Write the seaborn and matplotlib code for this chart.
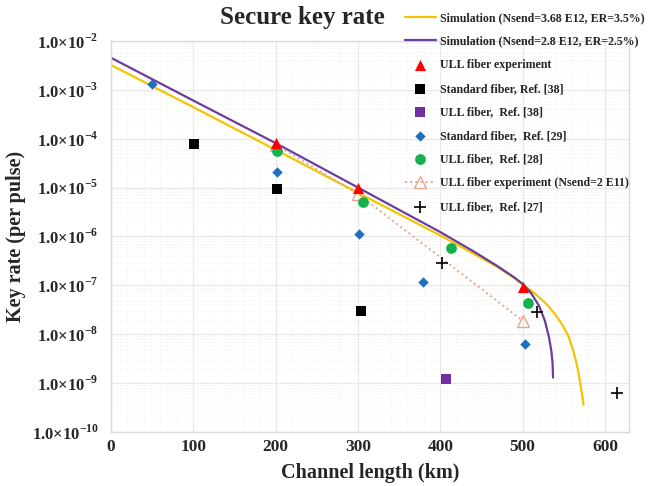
"""
plot.py - secure key rate vs channel length, simulation curves and
experimental / reference points on a log scale.
"""

import numpy as np
import matplotlib
matplotlib.use("Agg")
import matplotlib.pyplot as plt
import seaborn as sns
from matplotlib.ticker import FixedLocator, MultipleLocator, LogLocator, FuncFormatter

# ---- data ------------------------------------------------------------
sim_a_x = [0, 100, 200, 300, 400, 440, 469, 490, 501, 515, 530, 540, 549,
           556, 561, 565, 568, 571, 573, 574]
sim_a_y = [3.2e-3, 4.4e-4, 5.9e-5, 7.8e-6, 1.05e-6, 4.5e-7, 2.4e-7, 1.4e-7,
           1.02e-7, 6.8e-8, 4.0e-8, 2.5e-8, 1.5e-8, 8.9e-9, 5.0e-9, 2.8e-9,
           1.6e-9, 7.9e-10, 5.0e-10, 3.6e-10]

sim_b_x = [0, 100, 200, 300, 350, 400, 440, 469, 490, 500, 510, 520, 527,
           532, 535, 536.5, 537]
sim_b_y = [4.5e-3, 6.0e-4, 8.1e-5, 1.0e-5, 3.5e-6, 1.23e-6, 5.0e-7, 2.5e-7,
           1.45e-7, 1.07e-7, 7.1e-8, 3.8e-8, 1.9e-8, 8.9e-9, 4.5e-9,
           2.5e-9, 1.3e-9]

ull_exp_x = [200, 300, 500]
ull_exp_y = [8.2e-5, 1.0e-5, 9.3e-8]

std38_x = [101, 202, 304]
std38_y = [7.8e-5, 9.3e-6, 3.0e-8]

ull38_x = [407]
ull38_y = [1.23e-9]

std29_x = [50, 202, 301, 379, 503]
std29_y = [1.3e-3, 2.1e-5, 1.1e-6, 1.17e-7, 6.3e-9]

ull28_x = [202, 306, 413, 507]
ull28_y = [5.6e-5, 5.1e-6, 5.9e-7, 4.4e-8]

ull_low_x = [200, 300, 500]
ull_low_y = [7.5e-5, 7.4e-6, 1.9e-8]

ull27_x = [402, 518, 615]
ull27_y = [2.9e-7, 2.9e-8, 6.3e-10]

x_ticks = [0, 100, 200, 300, 400, 500, 600]
y_exps = [-2, -3, -4, -5, -6, -7, -8, -9, -10]

# ---- style ------------------------------------------------------------
sns.set_style("whitegrid")
plt.rcParams["font.family"] = ["Liberation Serif", "DejaVu Serif"]
plt.rcParams["font.weight"] = "bold"
plt.rcParams["mathtext.fontset"] = "custom"
plt.rcParams["mathtext.rm"] = "Liberation Serif:bold"
plt.rcParams["mathtext.bf"] = "Liberation Serif:bold"

fig = plt.figure(figsize=(6.57, 4.86), dpi=100)
ax = fig.add_axes([0.169, 0.111, 0.788, 0.805])

YELLOW = "#f2c500"
PURPLE = "#6a3d9f"

sns.lineplot(x=sim_a_x, y=sim_a_y, ax=ax, color=YELLOW, lw=1.6,
             estimator=None, sort=False,
             label="Simulation (Nsend=3.68 E12, ER=3.5%)")
sns.lineplot(x=sim_b_x, y=sim_b_y, ax=ax, color=PURPLE, lw=1.6,
             estimator=None, sort=False,
             label="Simulation (Nsend=2.8 E12, ER=2.5%)")

sns.lineplot(x=ull_low_x, y=ull_low_y, ax=ax, color="#e9a48c", lw=1.4,
             linestyle=":", marker="^", markersize=8, markerfacecolor="none",
             markeredgecolor="#e9a48c", markeredgewidth=1.0,
             estimator=None, sort=False, zorder=3,
             label="ULL fiber experiment (Nsend=2 E11)")

sns.scatterplot(x=std38_x, y=std38_y, ax=ax, color="black", marker="s",
                s=55, linewidth=0, zorder=4, label="Standard fiber, Ref. [38]")
sns.scatterplot(x=ull38_x, y=ull38_y, ax=ax, color="#7030a0", marker="s",
                s=55, linewidth=0, zorder=4, label="ULL fiber,  Ref. [38]")
sns.scatterplot(x=std29_x, y=std29_y, ax=ax, color="#1f6fc0", marker="D",
                s=28, linewidth=0, zorder=4, label="Standard fiber,  Ref. [29]")
sns.scatterplot(x=ull28_x, y=ull28_y, ax=ax, color="#16b04c", marker="o",
                s=60, linewidth=0, zorder=4, label="ULL fiber,  Ref. [28]")
sns.scatterplot(x=ull27_x, y=ull27_y, ax=ax, color="black", marker="+",
                s=80, linewidth=1.2, zorder=4, label="ULL fiber,  Ref. [27]")
sns.scatterplot(x=ull_exp_x, y=ull_exp_y, ax=ax, color="#ff0000", marker="^",
                s=65, linewidth=0, zorder=5, label="ULL fiber experiment")

if ax.get_legend() is not None:
    ax.get_legend().remove()

# ---- axes -------------------------------------------------------------
ax.set_yscale("log")
ax.set_xlim(0, 629)
ax.set_ylim(1e-10, 1e-2)

ax.xaxis.set_major_locator(FixedLocator(x_ticks))
ax.xaxis.set_minor_locator(MultipleLocator(20))
ax.yaxis.set_major_locator(FixedLocator([10.0 ** e for e in y_exps]))
ax.yaxis.set_minor_locator(LogLocator(base=10, subs=np.arange(2, 10)))
ax.yaxis.set_major_formatter(FuncFormatter(
    lambda v, _: r"$1.0{\times}10^{%d}$" % int(round(np.log10(v)))))

ax.grid(True, which="major", color="#e8e8e8", lw=0.9)
ax.grid(True, which="minor", color="#efefef", lw=0.6, linestyle=":")
ax.tick_params(axis="y", which="both", length=0, labelsize=12, pad=9)
ax.tick_params(axis="x", which="both", length=0, labelsize=12.5, pad=5)
for lbl in ax.get_xticklabels():
    lbl.set_fontweight("bold")
for side in ax.spines.values():
    side.set_color("#d9d9d9")
    side.set_linewidth(1.0)

ax.set_xlabel("Channel length (km)", fontsize=14.5, fontweight="bold", labelpad=6)
ax.set_ylabel("Key rate (per pulse)", fontsize=14.5, fontweight="bold", labelpad=4)

fig.text(0.46, 0.963, "Secure key rate", fontsize=18, fontweight="bold",
         ha="center", va="center")

# ---- legend (custom order, no frame, above the top-right) --------------
handles, labels = ax.get_legend_handles_labels()
order = [
    "Simulation (Nsend=3.68 E12, ER=3.5%)",
    "Simulation (Nsend=2.8 E12, ER=2.5%)",
    "ULL fiber experiment",
    "Standard fiber, Ref. [38]",
    "ULL fiber,  Ref. [38]",
    "Standard fiber,  Ref. [29]",
    "ULL fiber,  Ref. [28]",
    "ULL fiber experiment (Nsend=2 E11)",
    "ULL fiber,  Ref. [27]",
]
lookup = dict(zip(labels, handles))
fig.legend([lookup[k] for k in order], order, loc="upper left",
           bbox_to_anchor=(0.605, 0.99), frameon=False, fontsize=8.6,
           labelspacing=0.97, handlelength=2.6, handletextpad=0.35,
           borderaxespad=0.2)

fig.savefig("out.png", dpi=100)
